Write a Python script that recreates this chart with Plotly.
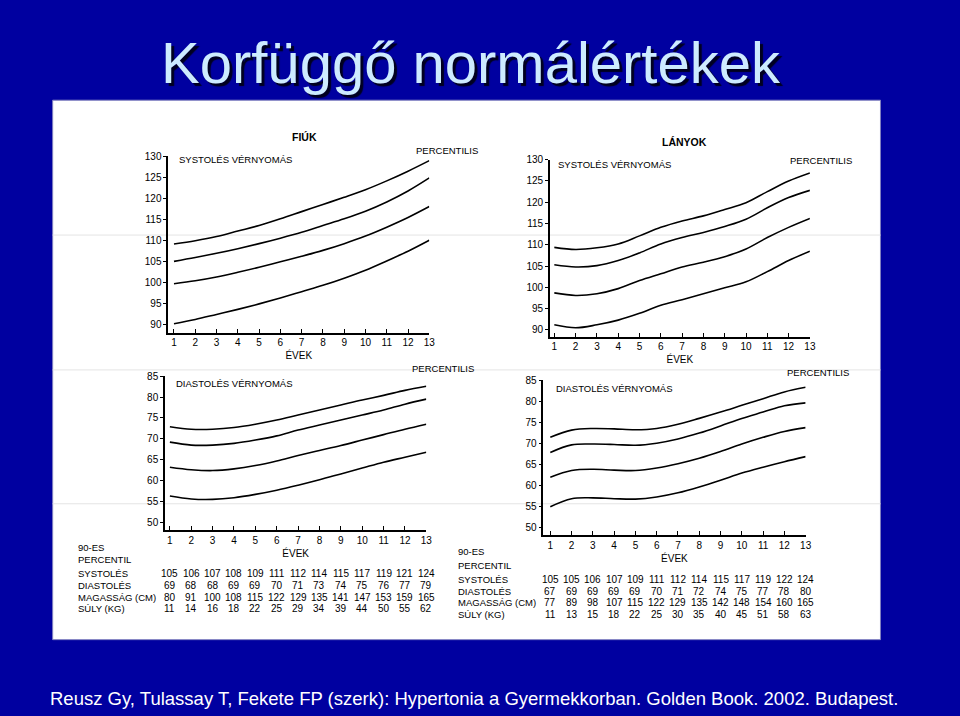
import plotly.graph_objects as go

W, H = 960, 716

years = list(range(1, 14))
percentile_names = ["95", "90", "75", "50"]

# systolic percentile curves (mmHg)
fiuk_sys = {
    "95": [109.2, 110.0, 111.0, 112.3, 113.6, 115.2, 116.9, 118.6, 120.3, 122.1, 124.2, 126.5, 129.0],
    "90": [105.1, 106.0, 107.0, 108.1, 109.3, 110.6, 112.0, 113.6, 115.2, 117.0, 119.2, 121.8, 124.9],
    "75": [99.8, 100.5, 101.4, 102.5, 103.7, 105.0, 106.3, 107.7, 109.3, 111.1, 113.2, 115.5, 118.1],
    "50": [90.3, 91.3, 92.5, 93.7, 95.0, 96.4, 97.9, 99.4, 101.1, 103.0, 105.2, 107.5, 110.1],
}
lanyok_sys = {
    "95": [109.4, 108.9, 109.3, 110.2, 112.1, 114.1, 115.6, 116.8, 118.3, 119.9, 122.5, 125.0, 126.9],
    "90": [105.3, 104.8, 105.1, 106.3, 108.1, 110.2, 111.7, 112.9, 114.3, 116.0, 118.7, 121.1, 122.8],
    "75": [98.7, 98.1, 98.5, 99.7, 101.6, 103.2, 104.8, 105.9, 107.2, 109.0, 111.7, 114.1, 116.2],
    "50": [91.2, 90.5, 91.2, 92.3, 93.9, 95.8, 97.1, 98.5, 99.9, 101.3, 103.7, 106.3, 108.5],
}
# diastolic percentile curves
fiuk_dia = {
    "95": [72.9, 72.3, 72.3, 72.7, 73.5, 74.5, 75.7, 76.9, 78.1, 79.3, 80.4, 81.6, 82.6],
    "90": [69.2, 68.5, 68.5, 68.9, 69.7, 70.7, 72.1, 73.3, 74.5, 75.7, 76.9, 78.3, 79.5],
    "75": [63.2, 62.6, 62.4, 62.8, 63.6, 64.7, 66.0, 67.2, 68.4, 69.7, 71.0, 72.3, 73.5],
    "50": [56.3, 55.6, 55.5, 55.9, 56.7, 57.7, 58.9, 60.2, 61.6, 63.0, 64.4, 65.6, 66.8],
}
lanyok_dia = {
    "95": [71.4, 73.1, 73.5, 73.4, 73.2, 73.5, 74.5, 75.9, 77.4, 79.0, 80.6, 82.2, 83.3],
    "90": [67.8, 69.6, 69.8, 69.7, 69.5, 70.0, 71.0, 72.4, 74.1, 75.9, 77.4, 78.9, 79.6],
    "75": [61.9, 63.5, 63.8, 63.6, 63.5, 64.1, 65.1, 66.4, 68.0, 69.8, 71.4, 72.8, 73.7],
    "50": [54.9, 56.8, 57.0, 56.8, 56.7, 57.2, 58.2, 59.6, 61.2, 62.9, 64.3, 65.6, 66.8],
}

# 90th percentile tables
row_labels = ["SYSTOLÉS", "DIASTOLÉS", "MAGASSÁG (CM)", "SÚLY (KG)"]
fiuk_systoles = [105, 106, 107, 108, 109, 111, 112, 114, 115, 117, 119, 121, 124]
fiuk_diastoles = [69, 68, 68, 69, 69, 70, 71, 73, 74, 75, 76, 77, 79]
fiuk_magassag = [80, 91, 100, 108, 115, 122, 129, 135, 141, 147, 153, 159, 165]
fiuk_suly = [11, 14, 16, 18, 22, 25, 29, 34, 39, 44, 50, 55, 62]
lanyok_systoles = [105, 105, 106, 107, 109, 111, 112, 114, 115, 117, 119, 122, 124]
lanyok_diastoles = [67, 69, 69, 69, 69, 70, 71, 72, 74, 75, 77, 78, 80]
lanyok_magassag = [77, 89, 98, 107, 115, 122, 129, 135, 142, 148, 154, 160, 165]
lanyok_suly = [11, 13, 15, 18, 22, 25, 30, 35, 40, 45, 51, 58, 63]

BLUE = "#0000A0"
FONT = "Liberation Sans, Arial, sans-serif"


def px(x):
    return x / W


def py(y):
    return 1 - y / H


fig = go.Figure()

panels = [
    # curves, axis suffix, x px range, y px range, x range, y range
    (fiuk_sys, "", (169.3, 432), (151.7, 329.3), [0.73, 13], [88.2, 130]),
    (lanyok_sys, "2", (553.3, 815), (155, 333.3), [0.79, 13], [88.45, 130]),
    (fiuk_dia, "3", (166, 429), (373.3, 528.3), [0.77, 13], [48.2, 85]),
    (lanyok_dia, "4", (546.7, 810.7), (377.3, 533.3), [0.67, 13], [48.2, 85]),
]

annotations = []
for curves, sfx, (x0, x1), (y0, y1), xr, yr in panels:
    for p in percentile_names:
        fig.add_trace(go.Scatter(
            x=years, y=curves[p], mode="lines", line_shape="spline",
            line=dict(color="black", width=1.6), showlegend=False,
            xaxis="x" + sfx, yaxis="y" + sfx, hoverinfo="skip",
        ))
        annotations.append(dict(
            x=13.85, y=curves[p][-1], xref="x" + sfx, yref="y" + sfx,
            text=p, showarrow=False, xanchor="center", yanchor="middle",
            font=dict(size=10, color="black", family=FONT),
        ))
    axfont = dict(size=10, color="black", family=FONT)
    fig.layout["xaxis" + sfx] = dict(
        domain=[px(x0), px(x1)], range=xr, anchor="y" + sfx,
        tickmode="array", tickvals=years, ticks="inside", ticklen=4,
        tickcolor="black", showline=True, linecolor="black", linewidth=1.5,
        showgrid=False, zeroline=False, tickfont=axfont,
        title=dict(text="ÉVEK", font=axfont, standoff=5),
    )
    ymin = 90 if yr[1] == 130 else 50
    fig.layout["yaxis" + sfx] = dict(
        domain=[py(y1), py(y0)], range=yr, anchor="x" + sfx,
        tickmode="array", tickvals=list(range(ymin, int(yr[1]) + 1, 5)),
        ticks="outside", ticklen=3, tickcolor="black", showline=True,
        linecolor="black", linewidth=1.5, showgrid=False, zeroline=False,
        tickfont=axfont,
    )

small = dict(size=10, color="black", family=FONT)
label = dict(size=9.5, color="black", family=FONT)
bold = dict(size=10.5, color="black", family=FONT, weight="bold")


def txt(x, y, s, font=label, xanchor="left"):
    annotations.append(dict(x=px(x), y=py(y), xref="paper", yref="paper", text=s,
                            showarrow=False, xanchor=xanchor, yanchor="middle", font=font))


txt(306, 132, "FIÚK", bold, "center")
txt(689, 137, "LÁNYOK", bold, "center")
txt(178, 155, "SYSTOLÉS VÉRNYOMÁS")
txt(559, 160, "SYSTOLÉS VÉRNYOMÁS")
txt(175, 381, "DIASTOLÉS VÉRNYOMÁS")
txt(557, 386, "DIASTOLÉS VÉRNYOMÁS")
txt(450, 146, "PERCENTILIS", xanchor="center")
txt(826, 156, "PERCENTILIS", xanchor="center")
txt(446, 366, "PERCENTILIS", xanchor="center")
txt(823, 370, "PERCENTILIS", xanchor="center")

# 90th percentile tables under the diastolic charts
tables = [
    ("x3", 76, [546, 558, 572, 584, 596, 608],
     [fiuk_systoles, fiuk_diastoles, fiuk_magassag, fiuk_suly]),
    ("x4", 459, [550, 564, 578, 590, 602, 614],
     [lanyok_systoles, lanyok_diastoles, lanyok_magassag, lanyok_suly]),
]
for xref, lx, rows_y, rows in tables:
    txt(lx, rows_y[0], "90-ES")
    txt(lx, rows_y[1], "PERCENTIL")
    for name, ry, vals in zip(row_labels, rows_y[2:], rows):
        txt(lx, ry, name)
        for yr_, v in zip(years, vals):
            annotations.append(dict(x=yr_, y=py(ry), xref=xref, yref="paper",
                                    text=str(v), showarrow=False, xanchor="center",
                                    yanchor="middle", font=small))

# slide title and reference
annotations.append(dict(
    x=px(474), y=py(57), xref="paper", yref="paper", text="Korfüggő normálértékek",
    showarrow=False, xanchor="center", yanchor="middle",
    font=dict(size=58, color="#CDEBFF", family=FONT, shadow="3px 3px 1px #000020"),
))
annotations.append(dict(
    x=px(477), y=py(698), xref="paper", yref="paper",
    text="Reusz Gy, Tulassay T, Fekete FP (szerk): Hypertonia a Gyermekkorban. Golden Book. 2002. Budapest.",
    showarrow=False, xanchor="center", yanchor="middle",
    font=dict(size=18.5, color="white", family=FONT),
))

shapes = [dict(type="rect", xref="paper", yref="paper", x0=px(53), x1=px(886),
               y0=py(639), y1=py(95), fillcolor="white",
               line=dict(color="#8080C0", width=1), layer="below")]
# faint scan lines across the figure
for ly in [231, 367, 502]:
    shapes.append(dict(type="line", xref="paper", yref="paper", x0=px(53), x1=px(886),
                       y0=py(ly), y1=py(ly), line=dict(color="#E4E4E4", width=1),
                       layer="below"))

fig.update_layout(
    width=W, height=H, margin=dict(l=0, r=0, t=0, b=0),
    paper_bgcolor=BLUE, plot_bgcolor="rgba(0,0,0,0)",
    annotations=annotations, shapes=shapes, showlegend=False,
    font=dict(family=FONT),
)

fig.write_html("out.html", config={"displayModeBar": False},
               post_script="document.body.style.margin='0';")
